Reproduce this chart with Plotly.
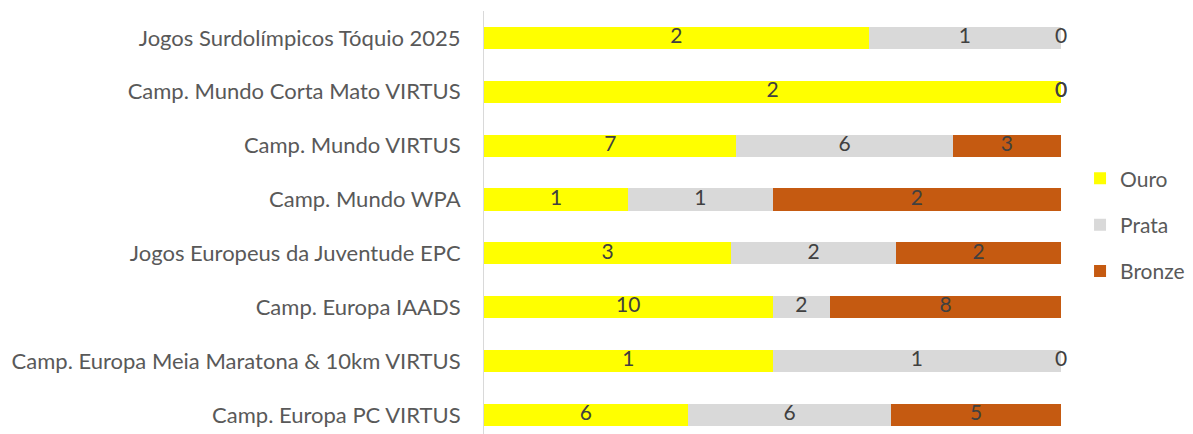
import plotly.graph_objects as go

categories = [
    "Jogos Surdolímpicos Tóquio 2025",
    "Camp. Mundo Corta Mato VIRTUS",
    "Camp. Mundo VIRTUS",
    "Camp. Mundo WPA",
    "Jogos Europeus da Juventude EPC",
    "Camp. Europa IAADS",
    "Camp. Europa Meia Maratona & 10km VIRTUS",
    "Camp. Europa PC VIRTUS",
]
ouro = [2, 2, 7, 1, 3, 10, 1, 6]
prata = [1, 0, 6, 1, 2, 2, 1, 6]
bronze = [0, 0, 3, 2, 2, 8, 0, 5]

series = [("Ouro", ouro, "#FFFF00"), ("Prata", prata, "#D9D9D9"), ("Bronze", bronze, "#C55A11")]
totals = [o + p + b for o, p, b in zip(ouro, prata, bronze)]

fig = go.Figure()
cum = [0.0] * len(categories)
lab_x, lab_y, lab_t = [], [], []
for i, (name, vals, col) in enumerate(series):
    pct = [v / t * 100 for v, t in zip(vals, totals)]
    fig.add_trace(go.Bar(
        y=categories, x=pct, orientation="h", name=name,
        marker=dict(color=col, line=dict(width=0)),
        legendgroup=name, hoverinfo="skip",
    ))
    for j, p in enumerate(pct):
        lab_x.append(cum[j] + p / 2)
        lab_y.append(categories[j])
        lab_t.append(str(vals[j]))
        cum[j] += p

fig.add_trace(go.Scatter(
    x=lab_x, y=lab_y, text=lab_t, mode="text", showlegend=False,
    textfont=dict(family="Lato", size=21, color="#404040"), hoverinfo="skip",
    cliponaxis=False,
))

fig.update_layout(
    width=1193, height=426,
    margin=dict(l=476, r=140, t=3, b=0),
    barmode="stack", bargap=0.59,
    plot_bgcolor="white", paper_bgcolor="white",
    font=dict(family="Lato", size=22, color="#595959"),
    legend=dict(x=1.033, y=0.652, xanchor="left", yanchor="top",
                traceorder="grouped", tracegroupgap=16,
                font=dict(size=21, color="#595959"), itemwidth=30),
    xaxis=dict(visible=False, range=[0, 100]),
    yaxis=dict(categoryorder="array", categoryarray=categories,
               range=[7.354, -0.5], showline=True, linecolor="#D9D9D9", linewidth=1,
               showgrid=False, ticks="", ticklabelstandoff=18, zeroline=False),
)

fig.write_html("out.html")
